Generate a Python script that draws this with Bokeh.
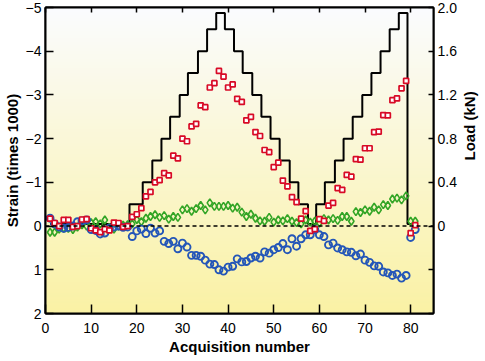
import math
import numpy as np
from bokeh.plotting import figure
from bokeh.models import Range1d, LinearAxis, FixedTicker, Span, CustomJSTickFormatter
from bokeh.embed import file_html
from bokeh.resources import INLINE

# ---- data ----
acq = list(range(1, 82))

red_strain = [-0.17, -0.07, 0.00, -0.14, -0.14, 0.02, 0.00, -0.15, -0.16, 0.05,
              0.10, 0.14, 0.07, 0.10, -0.08, -0.07, 0.02, 0.00, -0.21, -0.27,
              -0.41, -0.68, -0.78, -1.00, -1.05, -1.21, -1.16, -1.61, -1.55, -2.00,
              -1.94, -2.28, -2.34, -2.76, -2.72, -3.17, -3.27, -3.55, -3.42, -3.17,
              -3.24, -2.91, -2.84, -2.42, -2.50, -2.15, -2.06, -1.74, -1.69, -1.35,
              -1.45, -1.04, -0.91, -0.66, -0.55, -0.17, -0.34, 0.11, 0.07, -0.16,
              -0.12, -0.47, -0.53, -0.87, -0.83, -1.17, -1.13, -1.53, -1.52, -1.78,
              -1.78, -2.15, -2.16, -2.54, -2.53, -2.88, -2.92, -3.15, -3.32, 0.16,
              -0.02]

green_strain = [0.14, 0.14, 0.07, 0.05, 0.05, 0.08, 0.02, -0.03, 0.00, -0.08,
                -0.10, -0.05, -0.14, 0.03, 0.07, 0.00, -0.02, -0.03, -0.05, -0.15,
                -0.10, -0.18, -0.22, -0.26, -0.20, -0.24, -0.16, -0.22, -0.20, -0.37,
                -0.40, -0.34, -0.40, -0.47, -0.37, -0.53, -0.45, -0.45, -0.45, -0.47,
                -0.41, -0.43, -0.32, -0.22, -0.27, -0.18, -0.12, -0.11, -0.20, -0.09,
                -0.14, -0.12, -0.17, -0.11, -0.08, -0.05, -0.14, -0.09, -0.11, -0.07,
                -0.17, -0.14, -0.17, -0.13, -0.22, -0.22, -0.11, -0.33, -0.31, -0.37,
                -0.34, -0.43, -0.37, -0.49, -0.47, -0.62, -0.64, -0.60, -0.69, -0.11,
                -0.11]

blue_strain = [-0.18, -0.05, 0.02, 0.05, 0.03, 0.00, -0.10, -0.12, -0.14, 0.08,
               0.10, 0.18, 0.16, 0.05, 0.02, 0.00, 0.03, 0.02, 0.24, 0.11,
               0.07, 0.17, 0.05, 0.16, 0.11, 0.35, 0.40, 0.35, 0.52, 0.39,
               0.48, 0.67, 0.67, 0.69, 0.78, 0.87, 0.88, 1.00, 1.03, 0.94,
               0.92, 0.75, 0.82, 0.81, 0.73, 0.69, 0.73, 0.59, 0.62, 0.54,
               0.49, 0.40, 0.54, 0.29, 0.46, 0.29, 0.20, 0.20, 0.08, 0.20,
               0.24, 0.43, 0.39, 0.50, 0.54, 0.59, 0.60, 0.68, 0.64, 0.78,
               0.83, 0.91, 0.92, 1.05, 1.07, 1.13, 1.10, 1.19, 1.13, 0.26,
               0.08]

load_x = [1, 18.4, 21.3, 23.4, 25.4, 27.3, 29.4, 31.2, 33.4, 35.4, 37.4, 39.3,
          41.3, 43.2, 45.3, 47.3, 49.3, 51.3, 53.5, 55.4, 57.5, 59.3, 61.2, 63.4,
          65.3, 67.3, 69.4, 71.4, 73.4, 75.4, 77.4, 79.3, 81.2]
load_kn = [0.02, 0.2, 0.4, 0.6, 0.8, 1.0, 1.2, 1.4, 1.6, 1.8, 1.95, 1.8,
           1.6, 1.4, 1.2, 1.0, 0.8, 0.6, 0.4, 0.2, 0.02, 0.2, 0.4, 0.6,
           0.8, 1.0, 1.2, 1.4, 1.6, 1.8, 1.95, 0.02, 0.02]

x_ticks = [0, 10, 20, 30, 40, 50, 60, 70, 80]
strain_ticks = [-5, -4, -3, -2, -1, 0, 1, 2]
load_ticks = [-0.8, -0.4, 0, 0.4, 0.8, 1.2, 1.6, 2.0]

FONT = "Liberation Sans"

p = figure(frame_width=388, frame_height=306,
           x_range=Range1d(0, 85), y_range=Range1d(2, -5),
           output_backend="svg", toolbar_location=None,
           min_border_left=4, min_border_right=2, min_border_top=7, min_border_bottom=2,
           background_fill_color="white", border_fill_color="white")
p.extra_y_ranges = {"load": Range1d(-0.8, 2.0)}
p.grid.visible = False
p.outline_line_color = "black"
p.outline_line_width = 2

# background gradient (white top -> pale yellow bottom)
n = 200
t = np.linspace(0, 1, n)  # 0 bottom, 1 top
bottom = np.array([250, 242, 165])
top = np.array([250, 252, 255])
cols = (bottom[None, :] * (1 - t[:, None]) + top[None, :] * t[:, None]).astype(np.uint32)
img = np.empty((n, 1), dtype=np.uint32)
img[:, 0] = cols[:, 0] | (cols[:, 1] << 8) | (cols[:, 2] << 16) | (255 << 24)
p.image_rgba(image=[img], x=0, y=-0.8, dw=85, dh=2.8, y_range_name="load")

p.add_layout(Span(location=0, dimension="width", line_color="black",
                  line_width=1.5, line_dash="4 3"))

p.step(x=load_x, y=load_kn, mode="after", y_range_name="load",
       line_color="black", line_width=2)

p.scatter(acq, green_strain, marker="diamond", size=8, fill_color=None,
          line_color="#33a526", line_width=1.6)
p.scatter(acq, blue_strain, marker="circle", size=7, fill_color=None,
          line_color="#2456b8", line_width=1.9)
p.scatter(acq, red_strain, marker="square", size=5, fill_color="white",
          line_color="#d80a26", line_width=1.7)

# axes styling
def style(ax, tick_in):
    ax.axis_line_color = "black"
    ax.axis_line_width = 2
    ax.major_tick_in = tick_in
    ax.major_tick_out = 0
    ax.major_tick_line_width = 1.5
    ax.minor_tick_line_color = None
    ax.major_label_text_font = FONT
    ax.major_label_text_font_size = "14px"
    ax.major_label_text_color = "black"
    ax.axis_label_text_font = FONT
    ax.axis_label_text_font_size = "15px"
    ax.axis_label_text_font_style = "bold"
    ax.axis_label_text_color = "black"

xa = p.xaxis[0]
style(xa, 9)
xa.ticker = FixedTicker(ticks=x_ticks)
xa.axis_label = "Acquisition number"
xa.major_label_standoff = 9
xa.axis_label_standoff = 2

ya = p.yaxis[0]
style(ya, 8)
ya.ticker = FixedTicker(ticks=strain_ticks)
ya.axis_label = "Strain (times 1000)"
ya.major_label_standoff = 4
ya.axis_label_standoff = 2

ra = LinearAxis(y_range_name="load")
style(ra, 5)
ra.ticker = FixedTicker(ticks=load_ticks)
ra.formatter = CustomJSTickFormatter(code="""
  if (tick < -0.01) return '';
  if (Math.abs(tick) < 1e-9) return '0';
  return tick.toFixed(1);
""")
ra.axis_label = "Load (kN)"
ra.axis_label_orientation = math.pi / 2
ra.major_label_standoff = 4
ra.axis_label_standoff = 10
p.add_layout(ra, "right")

ta = LinearAxis()
style(ta, 5)
ta.ticker = FixedTicker(ticks=x_ticks)
ta.major_label_text_font_size = "1px"
ta.major_label_text_alpha = 0
ta.major_label_standoff = 0
p.add_layout(ta, "above")

open("out.html", "w").write(file_html(p, INLINE))
